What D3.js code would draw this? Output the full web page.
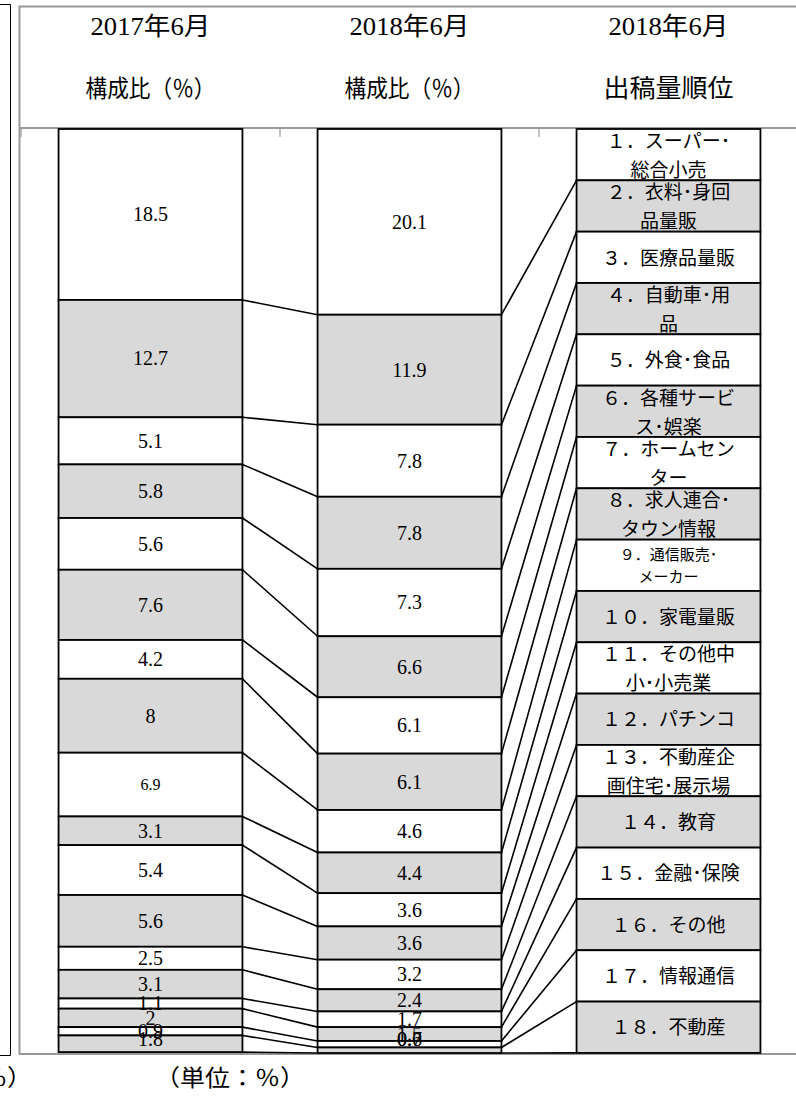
<!DOCTYPE html>
<html><head><meta charset="utf-8">
<script src="https://cdn.jsdelivr.net/npm/d3@7"></script>
<style>body{margin:0;background:#fff}svg{display:block}</style>
</head><body>
<script>
// ---------- data ----------
const categories = ["2017年6月", "2018年6月", "2018年6月"];
const categorySubtitles = ["構成比（％）", "構成比（％）", "出稿量順位"];
const share2017 = [18.5, 12.7, 5.1, 5.8, 5.6, 7.6, 4.2, 8, 6.9, 3.1, 5.4, 5.6, 2.5, 3.1, 1.1, 2, 0.9, 1.8];
const share2018 = [20.1, 11.9, 7.8, 7.8, 7.3, 6.6, 6.1, 6.1, 4.6, 4.4, 3.6, 3.6, 3.2, 2.4, 1.7, 1.5, 0.7, 0.6];
const rankSlots = [5.555, 5.555, 5.555, 5.555, 5.555, 5.555, 5.555, 5.555, 5.555, 5.555, 5.555, 5.555, 5.555, 5.555, 5.555, 5.555, 5.555, 5.555];
const rankLabels = [
  ["１．スーパー･", "総合小売"],
  ["２．衣料･身回", "品量販"],
  ["３．医療品量販"],
  ["４．自動車･用", "品"],
  ["５．外食･食品"],
  ["６．各種サービ", "ス･娯楽"],
  ["７．ホームセン", "ター"],
  ["８．求人連合･", "タウン情報"],
  ["９．通信販売･", "メーカー"],
  ["１０．家電量販"],
  ["１１．その他中", "小･小売業"],
  ["１２．パチンコ"],
  ["１３．不動産企", "画住宅･展示場"],
  ["１４．教育"],
  ["１５．金融･保険"],
  ["１６．その他"],
  ["１７．情報通信"],
  ["１８．不動産"]
];
const unitLabel = "（単位：％）";
const valueMax = 100;

// ---------- drawing ----------
const W = 796, H = 1098;
const svg = d3.select("body").append("svg").attr("width", W).attr("height", H);

const columns = [share2017, share2018, rankSlots];
const x = d3.scaleBand().domain(d3.range(columns.length)).range([21, 798])
  .paddingInner(0.29).paddingOuter(0.145);
const y = d3.scaleLinear().domain([0, valueMax]).range([129, 1053]);
const bw = x.bandwidth();

const stacks = columns.map(vals => {
  let acc = 0;
  return vals.map(v => { const s = acc; acc += v; return {v, s, e: acc}; });
});

const gray = "#999";
// previous panel edge (left)
svg.append("path").attr("d", "M0,4.5H10.5V1055.5H0").attr("fill", "none").attr("stroke", "#000").attr("stroke-width", 1);
svg.append("text").attr("x", -43).attr("y", 1086).attr("text-anchor", "middle")
  .attr("font-family", "'Noto Sans CJK JP'").attr("font-size", 23)
  .attr("textLength", 150).attr("lengthAdjust", "spacingAndGlyphs").text(unitLabel);

// frame
svg.append("path").attr("d", "M796,6.5H19.5V1054H796").attr("fill", "none").attr("stroke", gray).attr("stroke-width", 2);

// category axis at top (value axis reversed)
svg.append("line").attr("x1", 19).attr("x2", 796).attr("y1", 128).attr("y2", 128).attr("stroke", gray).attr("stroke-width", 2);
const tickXs = d3.range(columns.length + 1).map(i => x.range()[0] + i * x.step());
svg.selectAll("line.tick").data(tickXs).join("line").attr("class", "tick")
  .attr("x1", d => d).attr("x2", d => d).attr("y1", 128).attr("y2", 137)
  .attr("stroke", gray).attr("stroke-width", 1.2);

// headers
svg.selectAll("text.cat").data(categories).join("text").attr("class", "cat")
  .attr("x", (d, i) => x(i) + bw / 2).attr("y", 35).attr("text-anchor", "middle")
  .attr("font-family", "'Liberation Serif','Noto Sans CJK JP'").attr("font-size", 25)
  .attr("textLength", 120).attr("lengthAdjust", "spacingAndGlyphs").text(d => d);
svg.selectAll("text.sub").data(categorySubtitles).join("text").attr("class", "sub")
  .attr("x", (d, i) => x(i) + bw / 2).attr("y", 97).attr("text-anchor", "middle")
  .attr("font-family", "'Noto Sans CJK JP'").attr("font-size", (d, i) => i === 2 ? 25 : 24)
  .attr("textLength", 130).attr("lengthAdjust", "spacingAndGlyphs").text(d => d);

// series lines
const lines = svg.append("g");
for (let c = 0; c < columns.length - 1; c++) {
  const a = stacks[c], b = stacks[c + 1];
  for (let i = 0; i < a.length; i++) {
    lines.append("line")
      .attr("x1", x(c) + bw).attr("y1", y(a[i].e))
      .attr("x2", x(c + 1)).attr("y2", y(b[i].e))
      .attr("stroke", "#000").attr("stroke-width", 1.6);
  }
}

// bars
const nSeries = share2017.length;
for (let i = 0; i < nSeries; i++) {
  const g = svg.append("g");
  stacks.forEach((st, c) => {
    const d = st[i];
    g.append("rect").attr("x", x(c)).attr("width", bw)
      .attr("y", y(d.s)).attr("height", y(d.e) - y(d.s))
      .attr("fill", i % 2 ? "#d9d9d9" : "#fff").attr("stroke", "#000").attr("stroke-width", 1.8);
  });
}
// labels (kept inside the plot area like the original)
const maxLabelY = y(valueMax) - 14;
for (let i = 0; i < nSeries; i++) {
  [0, 1].forEach(c => {
    const d = stacks[c][i];
    const small = (c === 0 && i === 8);
    svg.append("text").attr("x", x(c) + bw / 2)
      .attr("y", Math.min((y(d.s) + y(d.e)) / 2, maxLabelY))
      .attr("dy", "0.34em").attr("text-anchor", "middle")
      .attr("font-family", "'Liberation Serif'").attr("font-size", small ? 16 : 20)
      .text(d.v);
  });
  const d = stacks[2][i];
  const yc = (y(d.s) + y(d.e)) / 2;
  const lab = rankLabels[i];
  const fs = i === 8 ? 15 : 19;
  const offs = lab.length === 1 ? [0] : (i === 8 ? [-11, 11] : [-14, 15]);
  lab.forEach((t, k) => {
    svg.append("text").attr("x", x(2) + bw / 2).attr("y", yc + offs[k]).attr("dy", "0.38em")
      .attr("text-anchor", "middle").attr("font-family", "'Noto Sans CJK JP'")
      .attr("font-size", fs).text(t);
  });
}
// unit
svg.append("text").attr("x", 230).attr("y", 1086).attr("text-anchor", "middle")
  .attr("font-family", "'Noto Sans CJK JP'").attr("font-size", 23)
  .attr("textLength", 150).attr("lengthAdjust", "spacingAndGlyphs").text(unitLabel);
</script>
</body></html>
